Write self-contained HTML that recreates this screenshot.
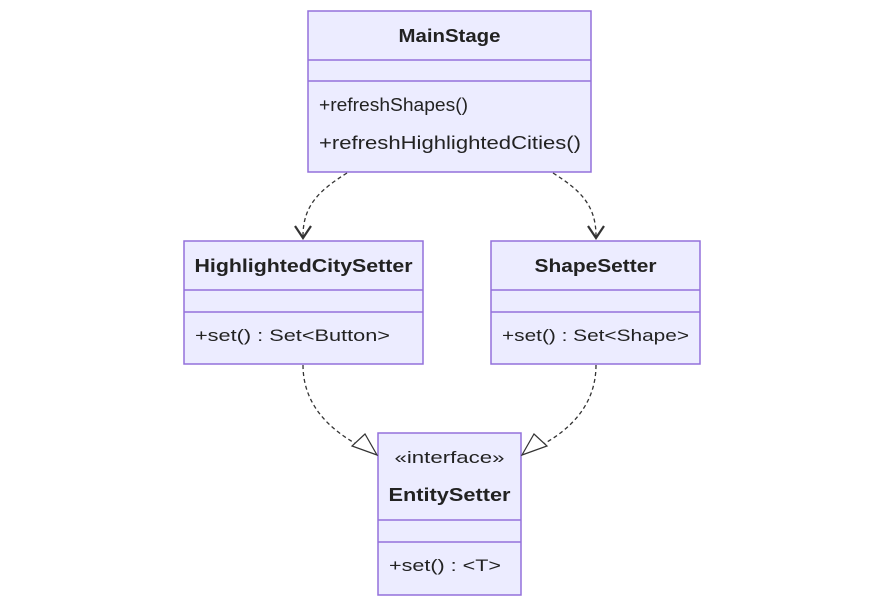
<!DOCTYPE html>
<html><head><meta charset="utf-8"><style>
html,body{margin:0;padding:0;background:#fff;}
svg{display:block;}
text{font-family:"Liberation Sans","DejaVu Sans",sans-serif;fill:#222;}
.b{font-weight:bold;}
</style></head><body>
<svg width="885" height="606" viewBox="0 0 885 606" xmlns="http://www.w3.org/2000/svg">
<g fill="#ECECFF" stroke="#9370DB" stroke-width="1.5">
<rect x="308" y="11" width="283" height="161"/>
<line x1="308" y1="60" x2="591" y2="60"/><line x1="308" y1="81" x2="591" y2="81"/>
<rect x="184" y="241" width="239" height="123"/>
<line x1="184" y1="290" x2="423" y2="290"/><line x1="184" y1="312" x2="423" y2="312"/>
<rect x="491" y="241" width="209" height="123"/>
<line x1="491" y1="290" x2="700" y2="290"/><line x1="491" y1="312" x2="700" y2="312"/>
<rect x="378" y="433" width="143" height="162"/>
<line x1="378" y1="520" x2="521" y2="520"/><line x1="378" y1="542" x2="521" y2="542"/>
</g>
<g fill="none" stroke="#333" stroke-width="1.3" stroke-dasharray="4,3">
<path d="M347 173 C320 190 303 205 303 236"/>
<path d="M553 173 C580 190 596 205 596 236"/>
<path d="M303 365 C303 405 330 430 360 446"/>
<path d="M596 365 C596 405 570 430 540 446"/>
</g>
<g fill="none" stroke="#333" stroke-width="2.2">
<path d="M295 226 L303 238 L311 226"/>
<path d="M588 226 L596 238 L604 226"/>
</g>
<g fill="#fff" stroke="#333" stroke-width="1.2">
<polygon points="377,455 352,446 365,434"/>
<polygon points="522,455 547,446 534,434"/>
</g>
<text x="449.5" y="42" text-anchor="middle" font-size="18" class="b" textLength="102" lengthAdjust="spacingAndGlyphs">MainStage</text>
<text x="319" y="111" font-size="18" textLength="149" lengthAdjust="spacingAndGlyphs">+refreshShapes()</text>
<text x="319" y="149" font-size="18" textLength="262" lengthAdjust="spacingAndGlyphs">+refreshHighlightedCities()</text>
<text x="303.5" y="272" text-anchor="middle" font-size="18" class="b" textLength="218" lengthAdjust="spacingAndGlyphs">HighlightedCitySetter</text>
<text x="195" y="341" font-size="17" textLength="195" lengthAdjust="spacingAndGlyphs">+set() : Set&lt;Button&gt;</text>
<text x="595.5" y="272" text-anchor="middle" font-size="18" class="b" textLength="122" lengthAdjust="spacingAndGlyphs">ShapeSetter</text>
<text x="502" y="341" font-size="17" textLength="187" lengthAdjust="spacingAndGlyphs">+set() : Set&lt;Shape&gt;</text>
<text x="449.5" y="463" text-anchor="middle" font-size="17" textLength="110" lengthAdjust="spacingAndGlyphs">«interface»</text>
<text x="449.5" y="501" text-anchor="middle" font-size="18" class="b" textLength="122" lengthAdjust="spacingAndGlyphs">EntitySetter</text>
<text x="389" y="571" font-size="17" textLength="112" lengthAdjust="spacingAndGlyphs">+set() : &lt;T&gt;</text>
</svg>
</body></html>
